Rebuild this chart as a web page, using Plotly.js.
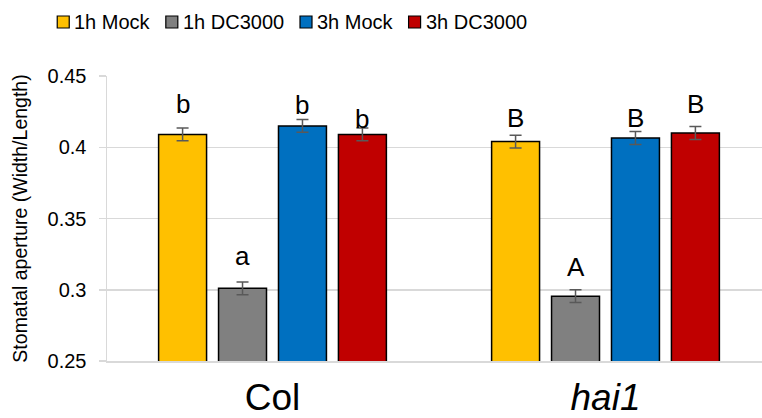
<!DOCTYPE html>
<html>
<head>
<meta charset="utf-8">
<script src="https://cdn.plot.ly/plotly-3.0.1.min.js"></script>
<style>html,body{margin:0;padding:0;background:#fff;}#chart{width:762px;height:418px;}</style>
</head>
<body>
<div id="chart"></div>
<script>
const categories = ['Col', 'hai1'];
const categoryLabels = ['Col', '<i>hai1</i>'];
const seriesNames = ['1h Mock', '1h DC3000', '3h Mock', '3h DC3000'];
const seriesColors = ['#FFC000', '#808080', '#0070C0', '#C00000'];
const mock1h = [0.409, 0.404];
const dc1h = [0.301, 0.2955];
const mock3h = [0.415, 0.4065];
const dc3h = [0.409, 0.410];
const err1hMock = [0.0045, 0.0045];
const err1hDC = [0.0045, 0.0045];
const err3hMock = [0.0045, 0.0045];
const err3hDC = [0.0045, 0.0045];
const letters1hMock = ['b', 'B'];
const letters1hDC = ['a', 'A'];
const letters3hMock = ['b', 'B'];
const letters3hDC = ['b', 'B'];
const letterY1hMock = [0.4304, 0.4207];
const letterY1hDC = [0.3239, 0.3162];
const letterY3hMock = [0.4296, 0.4207];
const letterY3hDC = [0.4198, 0.4301];

const values = [mock1h, dc1h, mock3h, dc3h];
const errs = [err1hMock, err1hDC, err3hMock, err3hDC];
const letters = [letters1hMock, letters1hDC, letters3hMock, letters3hDC];
const letterYs = [letterY1hMock, letterY1hDC, letterY3hMock, letterY3hDC];

const W = 762, H = 418;
const margin = {l: 107, r: 0, t: 76, b: 57};
const plotW = W - margin.l - margin.r;
const plotH = H - margin.t - margin.b;

const bargap = 0.28;
const nSeries = seriesNames.length;
const slot = (1 - bargap) / nSeries;

const font = 'Liberation Sans, Arial, sans-serif';

const traces = seriesNames.map((name, j) => ({
  type: 'bar',
  name: name,
  x: categories,
  y: values[j],
  marker: {color: seriesColors[j], line: {color: '#000000', width: 1.5}},
  error_y: {type: 'data', array: errs[j], visible: true, color: '#595959', thickness: 1.5, width: 6}
}));

const annotations = [];
for (let j = 0; j < nSeries; j++) {
  for (let i = 0; i < categories.length; i++) {
    annotations.push({
      x: i + (j - (nSeries - 1) / 2) * slot,
      y: letterYs[j][i],
      xref: 'x', yref: 'y',
      text: letters[j][i],
      showarrow: false,
      font: {family: font, size: 26, color: '#000000'},
      xanchor: 'center', yanchor: 'middle'
    });
  }
}

// Legend laid out from measured text widths (compact, like the original)
const legendFontSize = 20;
const sq = 12, sqGap = 3, itemGap = 18;
const ctx = document.createElement('canvas').getContext('2d');
ctx.font = legendFontSize + 'px "Liberation Sans", Arial, sans-serif';
const textW = seriesNames.map(n => ctx.measureText(n).width);
const totalW = textW.reduce((a, b) => a + b, 0) + nSeries * (sq + sqGap) + (nSeries - 1) * itemGap;
const legendCenterPx = 291, legendYPx = 22;
const toPX = px => (px - margin.l) / plotW;
const toPY = py => (H - margin.b - py) / plotH;
const shapes = [];
let cur = legendCenterPx - totalW / 2;
for (let j = 0; j < nSeries; j++) {
  shapes.push({
    type: 'rect', xref: 'paper', yref: 'paper',
    x0: toPX(cur), x1: toPX(cur + sq),
    y0: toPY(legendYPx + sq / 2), y1: toPY(legendYPx - sq / 2),
    fillcolor: seriesColors[j], line: {color: '#000000', width: 1.2}
  });
  annotations.push({
    xref: 'paper', yref: 'paper',
    x: toPX(cur + sq + sqGap), y: toPY(legendYPx),
    xanchor: 'left', yanchor: 'middle',
    text: seriesNames[j], showarrow: false,
    font: {family: font, size: legendFontSize, color: '#000000'}
  });
  cur += sq + sqGap + textW[j] + itemGap;
}

const layout = {
  width: W, height: H,
  margin: margin,
  paper_bgcolor: '#ffffff', plot_bgcolor: '#ffffff',
  barmode: 'group',
  bargap: bargap,
  bargroupgap: 0.2,
  font: {family: font, color: '#000000'},
  showlegend: false,
  xaxis: {
    type: 'category',
    tickvals: categories,
    ticktext: categoryLabels,
    range: [-0.497, 1.47],
    tickfont: {family: font, size: 37, color: '#000000'},
    ticklabelstandoff: 3,
    showline: true, linecolor: '#d9d9d9', linewidth: 1.5,
    ticks: '', showgrid: false
  },
  yaxis: {
    range: [0.25, 0.45],
    dtick: 0.05, tick0: 0.25,
    tickfont: {family: font, size: 20, color: '#000000'},
    ticklabelstandoff: 8,
    title: {text: 'Stomatal aperture (Width/Length)', font: {family: font, size: 19.5, color: '#000000'}, standoff: 14},
    showgrid: true, gridcolor: '#d9d9d9', gridwidth: 1.5,
    showline: true, linecolor: '#d9d9d9', linewidth: 1.5,
    ticks: 'outside', ticklen: 7, tickcolor: '#d9d9d9', tickwidth: 1.5,
    zeroline: false
  },
  shapes: shapes,
  annotations: annotations
};

Plotly.newPlot('chart', traces, layout, {displayModeBar: false, staticPlot: true});
</script>
</body>
</html>
